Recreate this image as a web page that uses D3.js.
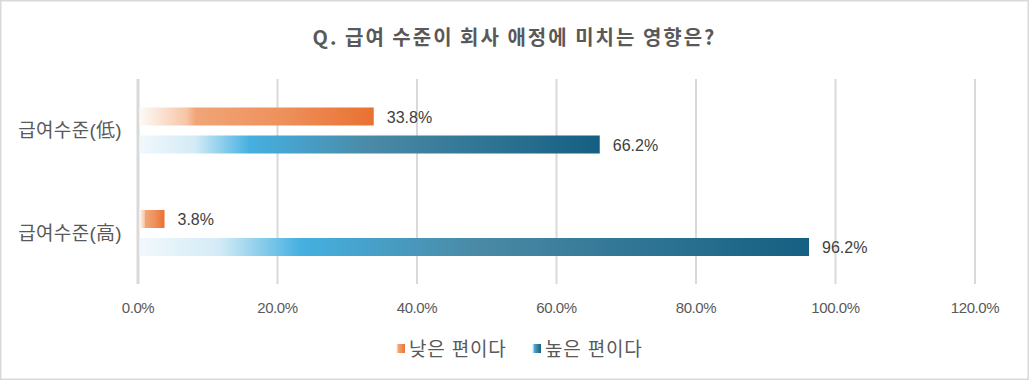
<!DOCTYPE html>
<html>
<head>
<meta charset="utf-8">
<script src="https://cdn.jsdelivr.net/npm/d3@7"></script>
<style>
  body { margin: 0; background: #fff; }
  svg { display: block; }
</style>
</head>
<body>
<div id="visualization"></div>
<script>
var title = 'Q. 급여 수준이 회사 애정에 미치는 영향은?'
var categories = ['급여수준(低)', '급여수준(高)']
var seriesNames = ['낮은 편이다', '높은 편이다']
var lowValues = [33.8, 3.8]
var highValues = [66.2, 96.2]
var ticks = [0, 20, 40, 60, 80, 100, 120]

var width = 1029
var height = 380
var plotLeft = 138
var plotRight = 975
var plotTop = 79
var plotBottom = 284
var font = "'Liberation Sans', Arial, 'Noto Sans CJK KR', sans-serif"

var svg = d3.select('#visualization')
  .append('svg')
  .attr('width', width)
  .attr('height', height)

svg.append('rect')
  .attr('x', 0.75).attr('y', 0.75)
  .attr('width', width - 1.5).attr('height', height - 1.5)
  .attr('fill', '#fff')
  .attr('stroke', '#d9d9d9')
  .attr('stroke-width', 1.5)

// gradients
var defs = svg.append('defs')
function makeGrad (id, stops) {
  var g = defs.append('linearGradient').attr('id', id)
    .attr('x1', 0).attr('x2', 1).attr('y1', 0).attr('y2', 0)
  stops.forEach(function (s) {
    g.append('stop').attr('offset', s[0]).attr('stop-color', s[1])
  })
}
makeGrad('gradOrange', [[0, '#fefaf7'], [0.2, '#f6c6a6'], [0.24, '#f1a577'], [0.6, '#ee915c'], [1, '#e97132']])
makeGrad('gradBlue', [[0, '#f1f8fc'], [0.12, '#d3ebf6'], [0.24, '#45b0e1'], [0.5, '#4a8aa6'], [1, '#155f82']])

var x = d3.scaleLinear().domain([0, 120]).range([plotLeft, plotRight])
var y = d3.scaleBand().domain(categories).range([plotTop, plotBottom])

// gridlines
svg.append('g').selectAll('line')
  .data(ticks.slice(1))
  .enter()
  .append('line')
  .attr('x1', function (d) { return x(d) })
  .attr('x2', function (d) { return x(d) })
  .attr('y1', plotTop)
  .attr('y2', plotBottom)
  .attr('stroke', '#d9d9d9')
  .attr('stroke-width', 2)

// axis line
svg.append('line')
  .attr('x1', x(0)).attr('x2', x(0))
  .attr('y1', plotTop).attr('y2', plotBottom)
  .attr('stroke', '#d9d9d9')
  .attr('stroke-width', 3)

// tick labels
svg.append('g').selectAll('text')
  .data(ticks)
  .enter()
  .append('text')
  .attr('x', function (d) { return x(d) })
  .attr('y', 313)
  .attr('text-anchor', 'middle')
  .style('font-family', font)
  .style('font-size', '15px')
  .style('letter-spacing', '-0.4px')
  .attr('fill', '#595959')
  .text(function (d) { return d3.format('.1f')(d) + '%' })

// category labels
svg.append('g').selectAll('text')
  .data(categories)
  .enter()
  .append('text')
  .attr('x', 122)
  .attr('y', function (d) { return y(d) + y.bandwidth() / 2 + 7 })
  .attr('text-anchor', 'end')
  .style('font-family', font)
  .style('font-size', '19px')
  .style('letter-spacing', '0.3px')
  .attr('fill', '#595959')
  .text(function (d) { return d })

// bars
var barH = 18
var series = [
  { name: seriesNames[0], values: lowValues, fill: 'url(#gradOrange)', off: 28.5 },
  { name: seriesNames[1], values: highValues, fill: 'url(#gradBlue)', off: 56.5 }
]
series.forEach(function (s) {
  var g = svg.append('g')
  g.selectAll('rect')
    .data(s.values)
    .enter()
    .append('rect')
    .attr('x', x(0) + 1.5)
    .attr('y', function (d, i) { return y(categories[i]) + s.off })
    .attr('width', function (d) { return x(d) - x(0) - 1.5 })
    .attr('height', barH)
    .attr('fill', s.fill)
  g.selectAll('text')
    .data(s.values)
    .enter()
    .append('text')
    .attr('x', function (d) { return x(d) + 13 })
    .attr('y', function (d, i) { return y(categories[i]) + s.off + barH / 2 + 6 })
    .style('font-family', font)
    .style('font-size', '16px')
    .attr('fill', '#404040')
    .text(function (d) { return d.toFixed(1) + '%' })
})

// title
svg.append('text')
  .attr('x', width / 2)
  .attr('y', 45)
  .attr('text-anchor', 'middle')
  .style('font-family', "'Noto Sans CJK KR', " + font)
  .style('font-size', '20px')
  .style('font-weight', 'bold')
  .style('letter-spacing', '2px')
  .attr('fill', '#595959')
  .text(title)

// legend
var legend = svg.append('g')
var legendX = [396, 532]
series.forEach(function (s, i) {
  legend.append('rect')
    .attr('x', legendX[i]).attr('y', 344)
    .attr('width', 9).attr('height', 9)
    .attr('fill', s.fill)
  legend.append('text')
    .attr('x', legendX[i] + 13)
    .attr('y', 356)
    .style('font-family', font)
    .style('font-size', '19px')
    .style('letter-spacing', '0.8px')
    .attr('fill', '#595959')
    .text(s.name)
})
</script>
</body>
</html>
